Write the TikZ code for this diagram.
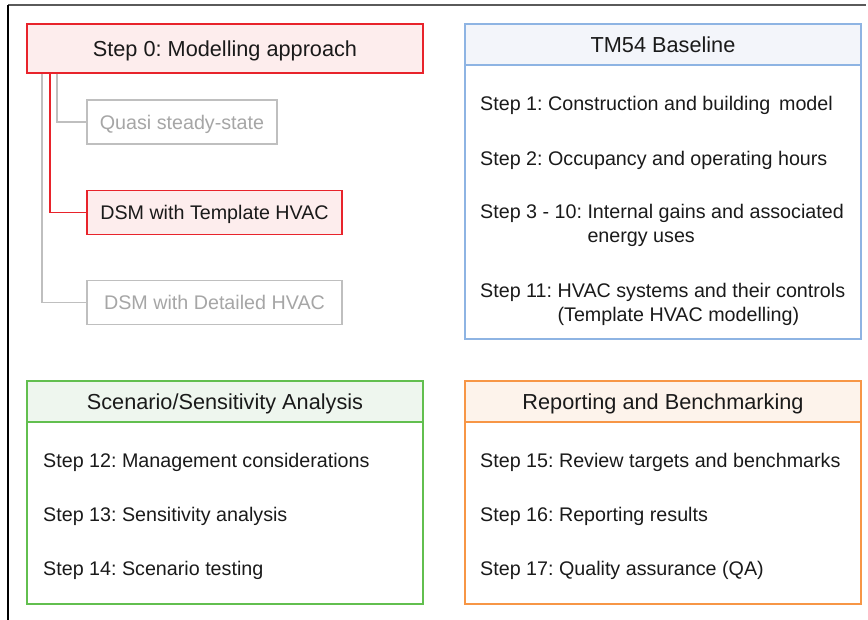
\documentclass[tikz,border=0pt]{standalone}
\usepackage{fontspec}
\setmainfont{Liberation Sans}
\frenchspacing
\definecolor{redb}{HTML}{E8232B}
\definecolor{pinkf}{HTML}{FDEDED}
\definecolor{greyb}{HTML}{BFBFBF}
\definecolor{greyt}{HTML}{A6A6A6}
\definecolor{blueb}{HTML}{8EB4E3}
\definecolor{bluef}{HTML}{F3F5FA}
\definecolor{greenb}{HTML}{62BF4F}
\definecolor{greenf}{HTML}{EEF6EE}
\definecolor{orangeb}{HTML}{F79646}
\definecolor{orangef}{HTML}{FDF3EB}
\definecolor{txt}{HTML}{1A1A1A}
\definecolor{frametop}{HTML}{5A5A5A}
\begin{document}
\begin{tikzpicture}[x=1pt,y=-1pt,
  box/.style={rectangle, draw, line width=1.6pt, inner sep=0pt,
    font=\fontsize{19.7}{23.6}\selectfont, text height=14.1pt, text depth=0pt, text=txt},
  hdr/.style={rectangle, draw, line width=1.6pt, inner sep=0pt,
    minimum width=396pt, minimum height=41pt,
    font=\fontsize{21.7}{26}\selectfont, text height=15.5pt, text depth=0pt, text=txt},
  bodybox/.style={rectangle, draw, line width=1.6pt, inner sep=0pt, minimum width=396pt},
  item/.style={anchor=base west, inner sep=0pt, font=\fontsize{19.7}{23.6}\selectfont,
    text=txt, align=left},
  greyconn/.style={draw=greyb, line width=1.6pt},
  redconn/.style={draw=redb, line width=1.6pt}
]
\useasboundingbox (0,0) rectangle (868,620);
% outer frame
\draw[frametop, line width=2pt] (8,5) -- (866,5);
\draw[black, line width=1.3pt] (8,5) -- (8,620);

% Step 0 and modelling options
\node[box, draw=redb, fill=pinkf, minimum width=396pt, minimum height=49pt,
  font=\fontsize{21.7}{26}\selectfont, text height=15.5pt] (step0) at (225,48.5) {Step 0: Modelling approach};
\node[box, draw=greyb, fill=white, text=greyt, minimum width=190pt, minimum height=44pt] (quasi) at (182,122) {Quasi steady-state};
\node[box, draw=redb, fill=pinkf, minimum width=255pt, minimum height=44pt] (dsmT) at (214.5,212.5) {DSM with Template HVAC};
\node[box, draw=greyb, fill=white, text=greyt, minimum width=255pt, minimum height=44pt] (dsmD) at (214.5,302.5) {DSM with Detailed HVAC};

\draw[greyconn] ([xshift=16pt]step0.south west) |- (dsmD.west);
\draw[greyconn] ([xshift=31pt]step0.south west) |- (quasi.west);
\draw[redconn] ([xshift=24pt]step0.south west) |- (dsmT.west);

% TM54 Baseline
\node[bodybox, draw=blueb, minimum height=274pt] (tmb) at (663,202) {};
\node[hdr, draw=blueb, fill=bluef] (tmh) at (663,44.5) {TM54 Baseline};
\node[item] (s1) at (480,111) {Step 1: Construction and building\, model};
\node[item] (s2) at (480,166) {Step 2: Occupancy and operating hours};
\node[item] (s3) at (480,219) {\begin{tabular}[t]{@{}l@{ }l@{}}Step 3 - 10: & Internal gains and associated\\ & energy uses\end{tabular}};
\node[item] (s11) at (480,298) {\begin{tabular}[t]{@{}l@{ }l@{}}Step 11: & HVAC systems and their controls\\ & (Template HVAC modelling)\end{tabular}};

% Scenario/Sensitivity Analysis
\node[bodybox, draw=greenb, minimum height=182pt] (scb) at (225,513) {};
\node[hdr, draw=greenb, fill=greenf] (sch) at (225,401.5) {Scenario/Sensitivity Analysis};
\node[item] (s12) at (43,467) {Step 12: Management considerations};
\node[item] (s13) at (43,521) {Step 13: Sensitivity analysis};
\node[item] (s14) at (43,575) {Step 14: Scenario testing};

% Reporting and Benchmarking
\node[bodybox, draw=orangeb, minimum height=182pt] (rpb) at (663,513) {};
\node[hdr, draw=orangeb, fill=orangef] (rph) at (663,401.5) {Reporting and Benchmarking};
\node[item] (s15) at (480,467) {Step 15: Review targets and benchmarks};
\node[item] (s16) at (480,521) {Step 16: Reporting results};
\node[item] (s17) at (480,575) {Step 17: Quality assurance (QA)};
\end{tikzpicture}
\end{document}
